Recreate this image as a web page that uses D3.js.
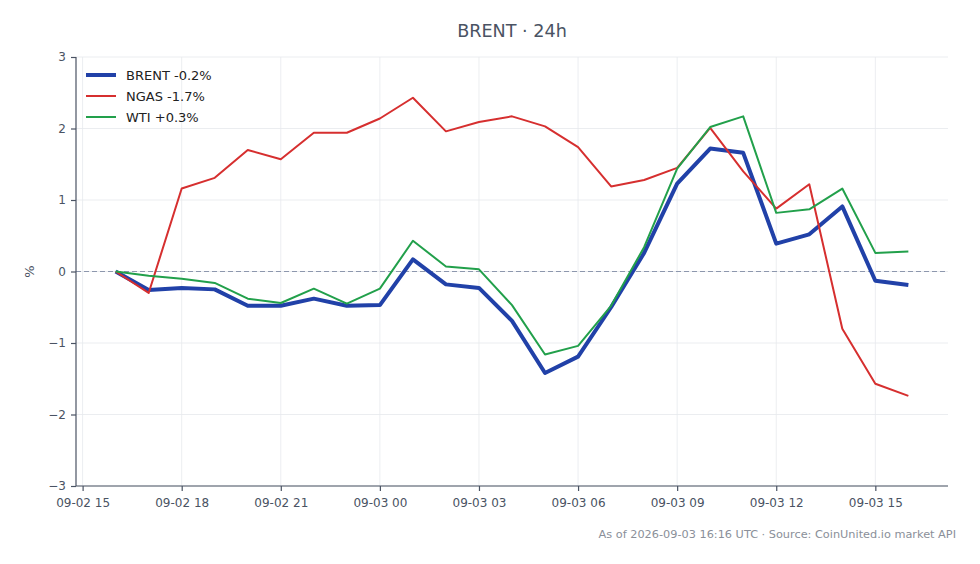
<!DOCTYPE html>
<html>
<head>
<meta charset="utf-8">
<script src="https://cdn.jsdelivr.net/npm/d3@7"></script>
<style>
  body { margin: 0; background: #fff; }
  svg { font-family: "DejaVu Sans", sans-serif; }
</style>
</head>
<body>
<svg id="chart" width="980" height="564"></svg>
<script>
// hourly points, 09-02 16:00 UTC .. 09-03 16:00 UTC
const startTime = new Date(Date.UTC(2026, 8, 2, 16));
const hours = d3.range(25);

const brent = [0, -0.26, -0.23, -0.25, -0.48, -0.48, -0.38, -0.48, -0.47, 0.17, -0.18, -0.23,
  -0.69, -1.42, -1.19, -0.5, 0.26, 1.23, 1.72, 1.66, 0.39, 0.52, 0.91, -0.13, -0.19];
const ngas = [0, -0.3, 1.16, 1.31, 1.7, 1.57, 1.94, 1.94, 2.14, 2.43, 1.96, 2.09,
  2.17, 2.03, 1.74, 1.19, 1.28, 1.45, 2.01, 1.4, 0.88, 1.22, -0.8, -1.57, -1.74];
const wti = [0, -0.06, -0.1, -0.16, -0.38, -0.44, -0.24, -0.45, -0.24, 0.43, 0.07, 0.03,
  -0.47, -1.16, -1.04, -0.48, 0.34, 1.44, 2.02, 2.17, 0.82, 0.87, 1.16, 0.26, 0.28];

const seriesNames = ["BRENT -0.2%", "NGAS -1.7%", "WTI +0.3%"];
const seriesColors = ["#2141a8", "#d62f2f", "#22a04b"];
const seriesWidths = [4, 2, 2];
const yTicks = [-3, -2, -1, 0, 1, 2, 3];

const svg = d3.select("#chart");
const m = { left: 76, right: 948, top: 57, bottom: 486 };

const times = hours.map(h => new Date(startTime.getTime() + h * 3600e3));
const span = times[times.length - 1] - times[0];
const x = d3.scaleUtc()
  .domain([new Date(+times[0] - span * 0.05), new Date(+times[times.length - 1] + span * 0.05)])
  .range([m.left, m.right]);
const y = d3.scaleLinear().domain([-3, 3]).range([m.bottom, m.top]);

const xTicks = d3.range(0, 9).map(i => new Date(Date.UTC(2026, 8, 2, 15 + i * 3)));
const fmt = d3.utcFormat("%m-%d %H");

// grid
svg.append("g").selectAll("line").data(yTicks).join("line")
  .attr("x1", m.left).attr("x2", m.right)
  .attr("y1", d => y(d)).attr("y2", d => y(d))
  .attr("stroke", "#e6e8ec").attr("stroke-width", 0.8);
svg.append("g").selectAll("line").data(xTicks).join("line")
  .attr("x1", d => x(d)).attr("x2", d => x(d))
  .attr("y1", m.top).attr("y2", m.bottom)
  .attr("stroke", "#e6e8ec").attr("stroke-width", 0.8);

// zero line
svg.append("line")
  .attr("x1", m.left).attr("x2", m.right)
  .attr("y1", y(0)).attr("y2", y(0))
  .attr("stroke", "#8d97ad").attr("stroke-width", 1)
  .attr("stroke-dasharray", "5,3");

// axes
const axisColor = "#4a5363";
const yAxis = svg.append("g")
  .attr("transform", `translate(${m.left},0)`)
  .call(d3.axisLeft(y).tickValues(yTicks).tickSize(5).tickPadding(5)
    .tickFormat(d => d < 0 ? "\u2212" + Math.abs(d) : d));
const xAxis = svg.append("g")
  .attr("transform", `translate(0,${m.bottom})`)
  .call(d3.axisBottom(x).tickValues(xTicks).tickSize(5).tickPadding(7).tickFormat(fmt));
[yAxis, xAxis].forEach(g => {
  g.select(".domain").attr("stroke", axisColor).attr("stroke-width", 1.2);
  g.selectAll(".tick line").attr("stroke", axisColor).attr("stroke-width", 1.2);
  g.selectAll("text").attr("fill", axisColor).style("font-size", "12px")
    .style("font-family", "DejaVu Sans, sans-serif");
});
xAxis.select(".domain").attr("d", `M${m.left},0H${m.right}`);
yAxis.select(".domain").attr("d", `M0,${m.top}V${m.bottom}`);

// lines, in legend order (later ones on top)
const line = d3.line().x((d, i) => x(times[i])).y(d => y(d));
[brent, ngas, wti].forEach((s, k) => {
  svg.append("path").datum(s)
    .attr("fill", "none")
    .attr("stroke", seriesColors[k])
    .attr("stroke-width", seriesWidths[k])
    .attr("stroke-linejoin", "round")
    .attr("d", line);
});

// legend
const legend = svg.append("g").attr("transform", "translate(86,75)");
seriesNames.forEach((name, i) => {
  const row = legend.append("g").attr("transform", `translate(0,${i * 21})`);
  row.append("line").attr("x1", 0).attr("x2", 30)
    .attr("stroke", seriesColors[i]).attr("stroke-width", seriesWidths[i]);
  row.append("text").attr("x", 40).attr("dy", "0.35em")
    .attr("fill", "#222").style("font-size", "13px").text(name);
});

// title, labels
svg.append("text").attr("x", 512).attr("y", 37).attr("text-anchor", "middle")
  .attr("fill", "#4a5363").style("font-size", "17.6px").text("BRENT \u00b7 24h");
svg.append("text").attr("transform", `translate(34,${y(0)}) rotate(-90)`)
  .attr("text-anchor", "middle").attr("fill", axisColor).style("font-size", "13px").text("%");
svg.append("text").attr("x", 956).attr("y", 538).attr("text-anchor", "end")
  .attr("fill", "#8a8f99").style("font-size", "11.3px")
  .text("As of 2026-09-03 16:16 UTC \u00b7 Source: CoinUnited.io market API");
</script>
</body>
</html>
